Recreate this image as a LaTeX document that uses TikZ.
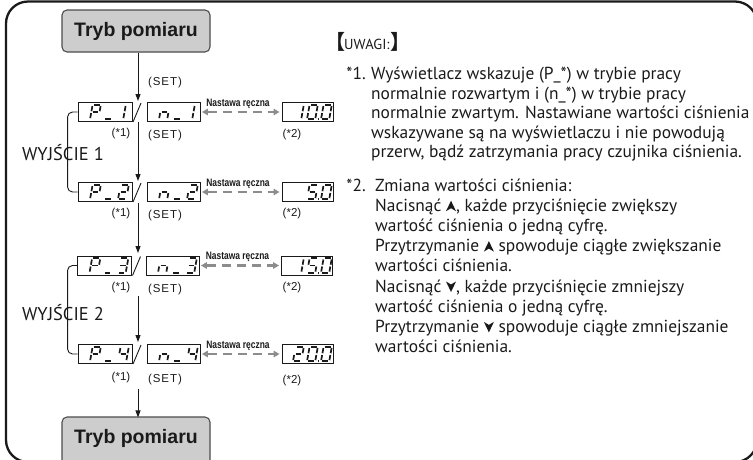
\documentclass[tikz,border=0pt]{standalone}
\usepackage{fontspec}
\setmainfont{PT Sans}
\newfontfamily\arialf{Liberation Sans}
\newfontfamily\setf{Liberation Sans}[LetterSpace=8]
\newfontfamily\narrowf{Liberation Sans}[FakeStretch=0.78]
\newfontfamily\cjkf{Noto Sans CJK SC}
\usetikzlibrary{arrows.meta}
\definecolor{modefill}{HTML}{CDCDCD}
\definecolor{modeedge}{HTML}{4D4D4D}
\definecolor{dashgray}{HTML}{8C8C8C}
\definecolor{ink}{HTML}{1A1A1A}
% seven-segment pieces (origin = bottom-left, y grows downward)
\newcommand{\sgA}{\draw[segline] (1.3,-14.5)--(6.9,-14.5);}
\newcommand{\sgB}{\draw[segline] (8.2,-13.3)--(8.2,-8.1);}
\newcommand{\sgC}{\draw[segline] (8.2,-6.3)--(8.2,-1.2);}
\newcommand{\sgD}{\draw[segline] (1.3,0)--(6.9,0);}
\newcommand{\sgE}{\draw[segline] (0,-6.3)--(0,-1.2);}
\newcommand{\sgF}{\draw[segline] (0,-13.3)--(0,-8.1);}
\newcommand{\sgG}{\draw[segline] (1.3,-7.2)--(6.9,-7.2);}
\newcommand{\glyph}[3]{\begin{scope}[shift={(#1,#2)},xslant=0.18]\foreach \s in {#3}{\csname sg\s\endcsname}\end{scope}}
\newcommand{\dpt}[2]{\fill[ink] ({#1-0.9},{#2-0.9}) rectangle ({#1+0.9},{#2+0.9});}
\newcommand{\upT}{\tikz[x=1pt,y=1pt,baseline=0pt]\fill[ink] (0,0)--(5,10.5)--(10,0)--(5,3)--cycle;}
\newcommand{\dnT}{\tikz[x=1pt,y=1pt,baseline=0pt]\fill[ink] (0,10.5)--(5,0)--(10,10.5)--(5,7.5)--cycle;}
\begin{document}
\begin{tikzpicture}[x=1pt,y=-1pt,
  modebox/.style={draw=modeedge, fill=modefill, line width=1.1pt, rounded corners=5pt, minimum width=148pt, minimum height=42pt, inner sep=0pt},
  modetext/.style={font=\arialf\bfseries\fontsize{19.5}{22}\selectfont, text=ink, inner sep=0pt},
  disp/.style={draw=ink, fill=white, line width=0.9pt, minimum height=19pt, inner sep=0pt},
  segline/.style={line width=1.7pt, draw=ink},
  varrow/.style={draw=ink, line width=1pt, -{Triangle[length=7pt,width=5pt]}},
  dasharrow/.style={draw=dashgray, line width=2.3pt, dash pattern=on 9pt off 6pt, {Triangle[length=6pt,width=6.5pt]}-{Triangle[length=6pt,width=6.5pt]}, shorten <=1.5pt, shorten >=2pt},
  manual/.style={font=\narrowf\bfseries\fontsize{10.8}{12}\selectfont, text=ink, inner sep=0pt, anchor=base},
  small/.style={font=\arialf\fontsize{11.5}{13}\selectfont, text=ink, inner sep=0pt},
  setlbl/.style={font=\setf\fontsize{11.5}{13}\selectfont, text=ink, inner sep=0pt},
  wyj/.style={font=\fontsize{18.5}{21}\selectfont, text=ink, inner sep=0pt, anchor=base},
  bracket/.style={draw=ink, line width=0.9pt, rounded corners=5pt},
  note/.style={font=\fontsize{17.4}{21}\selectfont, text=ink, inner sep=0pt, anchor=base west},
  key/.style={font=\fontsize{17.4}{21}\selectfont, text=ink, inner sep=0pt, anchor=base east},
  slash/.style={draw=ink, line width=0.9pt}]
\useasboundingbox (0,0) rectangle (753,459);
\begin{scope}
\clip (0,0) rectangle (753,459);
% outer frame
\draw[line width=2.3pt, draw=ink, rounded corners=22pt] (6,1.5) rectangle (757,462);

% mode boxes
\node[modebox] (top) at (136,31) {};
\node[modetext] (toplbl) at (136,31) {Tryb pomiaru};
\node[modebox, minimum height=56pt] (bot) at (136,445) {};
\node[modetext] (botlbl) at (136,438) {Tryb pomiaru};

% displays
\node[disp, minimum width=54pt] (p1) at (105,112) {};
\node[disp, minimum width=53pt] (n1) at (173.5,112) {};
\node[disp, minimum width=51pt] (v1) at (307.5,112) {};
\node[disp, minimum width=54pt] (p2) at (105,192) {};
\node[disp, minimum width=53pt] (n2) at (173.5,192) {};
\node[disp, minimum width=51pt] (v2) at (307.5,192) {};
\node[disp, minimum width=54pt] (p3) at (104.5,265.5) {};
\node[disp, minimum width=53pt] (n3) at (172.5,265.5) {};
\node[disp, minimum width=51pt] (v3) at (307,265.5) {};
\node[disp, minimum width=54pt] (p4) at (105,354) {};
\node[disp, minimum width=53pt] (n4) at (173.5,354) {};
\node[disp, minimum width=51pt] (v4) at (307.5,354) {};

% row 1 glyphs: P_1 / n_1 / 10.0
\glyph{90}{119.3}{A,B,E,F,G}\glyph{104}{119.3}{D}\glyph{115}{119.3}{B,C}
\glyph{159}{119.3}{C,E,G}\glyph{173}{119.3}{D}\glyph{184}{119.3}{B,C}
\glyph{293}{119.3}{B,C}\glyph{307}{119.3}{A,B,C,D,E,F}\dpt{318.5}{119.3}\glyph{321}{119.3}{A,B,C,D,E,F}
% row 2: P_2 / n_2 / 5.0
\glyph{90}{199.3}{A,B,E,F,G}\glyph{104}{199.3}{D}\glyph{118}{199.3}{A,B,G,E,D}
\glyph{159}{199.3}{C,E,G}\glyph{173}{199.3}{D}\glyph{187}{199.3}{A,B,G,E,D}
\glyph{307}{199.3}{A,F,G,C,D}\dpt{318.5}{199.3}\glyph{321}{199.3}{A,B,C,D,E,F}
% row 3: P_3 / n_3 / 15.0
\glyph{89.5}{272.8}{A,B,E,F,G}\glyph{103.5}{272.8}{D}\glyph{117.5}{272.8}{A,B,G,C,D}
\glyph{158}{272.8}{C,E,G}\glyph{172}{272.8}{D}\glyph{186}{272.8}{A,B,G,C,D}
\glyph{293}{272.8}{B,C}\glyph{307}{272.8}{A,F,G,C,D}\dpt{318.5}{272.8}\glyph{321}{272.8}{A,B,C,D,E,F}
% row 4: P_4 / n_4 / 20.0
\glyph{90}{361.3}{A,B,E,F,G}\glyph{104}{361.3}{D}\glyph{118}{361.3}{F,G,B,C}
\glyph{159}{361.3}{C,E,G}\glyph{173}{361.3}{D}\glyph{187}{361.3}{F,G,B,C}
\glyph{293}{361.3}{A,B,G,E,D}\glyph{307}{361.3}{A,B,C,D,E,F}\dpt{318.5}{361.3}\glyph{321}{361.3}{A,B,C,D,E,F}

% slashes
\draw[slash] (133,122) -- (141,103);
\draw[slash] (133,202) -- (141,183);
\draw[slash] (132.5,275.5) -- (140.5,256.5);
\draw[slash] (133,364) -- (141,345);

% vertical flow
\coordinate (e0) at (138,101);
\coordinate (s1) at (138,122); \coordinate (e1) at (138,181);
\coordinate (s2) at (138,203); \coordinate (e2) at (138,253);
\coordinate (s3) at (138,296); \coordinate (e3) at (138,342);
\coordinate (s4) at (138,389);
\draw[varrow] (top.south -| s1) -- (e0);
\draw[varrow] (s1) -- (e1);
\draw[varrow] (s2) -- (e2);
\draw[varrow] (s3) -- (e3);
\draw[varrow] (s4) -- ([yshift=-1pt]bot.north -| s4);

% SET / *1 / *2 labels
\node[setlbl] (set0) at (165,83) {(SET)};
\node[small] (a1) at (121,134) {(*1)};   \node[setlbl] (set1) at (165,136) {(SET)};
\node[small] (a2) at (121,214) {(*1)};   \node[setlbl] (set2) at (165,216) {(SET)};
\node[small] (a3) at (121,287.5) {(*1)}; \node[setlbl] (set3) at (165,289.5) {(SET)};
\node[small] (a4) at (121,378) {(*1)};   \node[setlbl] (set4) at (165,380) {(SET)};
\node[small] (b1) at (292,135) {(*2)};
\node[small] (b2) at (292,214) {(*2)};
\node[small] (b3) at (292,288) {(*2)};
\node[small] (b4) at (292,381) {(*2)};

% manual setting arrows
\draw[dasharrow] (n1.east) -- (v1.west);
\draw[dasharrow] (n2.east) -- (v2.west);
\draw[dasharrow] (n3.east) -- (v3.west);
\draw[dasharrow] (n4.east) -- (v4.west);
\node[manual] (m1) at (238,106) {Nastawa ręczna};
\node[manual] (m2) at (238,186) {Nastawa ręczna};
\node[manual] (m3) at (237.5,259.5) {Nastawa ręczna};
\node[manual] (m4) at (238,348) {Nastawa ręczna};

% output brackets
\draw[bracket] (p1.west) -- ++(-10,0) |- (p2.west);
\draw[bracket] (p3.west) -- ++(-9.5,0) |- (p4.west);
\node[wyj] (w1) at (63,160) {WYJŚCIE 1};
\node[wyj] (w2) at (63,320) {WYJŚCIE 2};

% notes
\node[note] (uw) at (325,49) {{\cjkf\bfseries\fontsize{20}{22}\selectfont 【}\kern-1pt{\fontsize{14.5}{16}\selectfont UWAGI:}\kern0.5pt{\cjkf\bfseries\fontsize{20}{22}\selectfont 】}};
\node[key] (k1) at (366,79.5) {*1.};
\node[note] (l1) at (371,79.5) {Wyświetlacz wskazuje (P\_*) w trybie pracy};
\node[note] (l2) at (371,99) {normalnie rozwartym i (n\_*) w trybie pracy};
\node[note] (l3) at (371,118.5) {normalnie zwartym. Nastawiane wartości ciśnienia};
\node[note] (l4) at (371,138) {wskazywane są na wyświetlaczu i nie powodują};
\node[note] (l5) at (371,157.5) {przerw, bądź zatrzymania pracy czujnika ciśnienia.};
\node[key] (k2) at (366,191) {*2.};
\node[note] (m0) at (375,191) {Zmiana wartości ciśnienia:};
\node[note] (q1) at (375,211.2) {Nacisnąć \upT, każde przyciśnięcie zwiększy};
\node[note] (q2) at (375,231.4) {wartość ciśnienia o jedną cyfrę.};
\node[note] (q3) at (375,251.6) {Przytrzymanie \upT\ spowoduje ciągłe zwiększanie};
\node[note] (q4) at (375,271.8) {wartości ciśnienia.};
\node[note] (q5) at (375,292) {Nacisnąć \dnT, każde przyciśnięcie zmniejszy};
\node[note] (q6) at (375,312.2) {wartość ciśnienia o jedną cyfrę.};
\node[note] (q7) at (375,332.4) {Przytrzymanie \dnT\ spowoduje ciągłe zmniejszanie};
\node[note] (q8) at (375,352.6) {wartości ciśnienia.};
\end{scope}
\end{tikzpicture}
\end{document}
